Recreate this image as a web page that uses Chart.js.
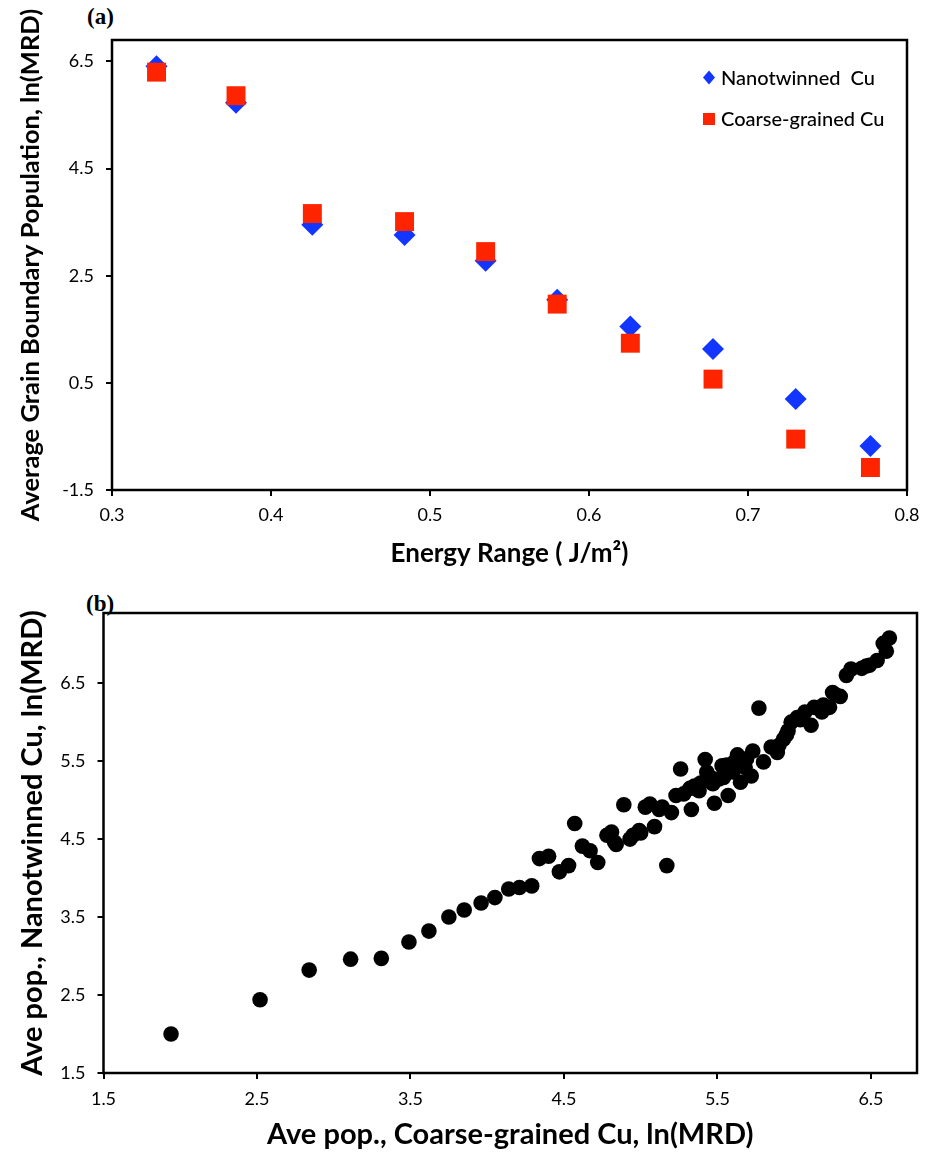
<!DOCTYPE html>
<html>
<head>
<meta charset="utf-8">
<script src="https://cdn.jsdelivr.net/npm/chart.js@4.4.1/dist/chart.umd.min.js"></script>
<style>
  body { margin: 0; background: #fff; }
  .panel { position: absolute; left: 0; }
  .tag { position: absolute; font: bold 23px "Liberation Serif", serif; color: #000; }
</style>
</head>
<body>
<div class="tag" style="left:87px;top:4px">(a)</div>
<div class="tag" style="left:86px;top:591px">(b)</div>
<canvas id="chartA" class="panel" style="top:0" width="933" height="580"></canvas>
<canvas id="chartB" class="panel" style="top:580px" width="933" height="575"></canvas>
<script>
// panel (a): energy ranges and average populations
const energyRange = [0.328, 0.378, 0.426, 0.484, 0.535, 0.580, 0.626, 0.678, 0.730, 0.777];
const nanotwinned = [6.41, 5.73, 3.45, 3.26, 2.78, 2.05, 1.55, 1.13, 0.20, -0.68];
const coarseGrained = [6.30, 5.86, 3.66, 3.51, 2.95, 1.97, 1.24, 0.57, -0.55, -1.08];
const xTicksA = [0.3, 0.4, 0.5, 0.6, 0.7, 0.8];
const yTicksA = [-1.5, 0.5, 2.5, 4.5, 6.5];

// panel (b): coarse-grained (x) vs nanotwinned (y)
const coarsePop = [1.94, 2.52, 2.84, 3.11, 3.31, 3.49, 3.62, 3.75, 3.85, 3.96, 4.05, 4.14, 4.21, 4.29,
  4.34, 4.40, 4.47, 4.53, 4.57, 4.62, 4.67, 4.72, 4.78, 4.81, 4.84, 4.89, 4.93, 4.99, 5.03, 5.06,
  5.09, 5.14, 5.17, 5.20, 5.23, 5.26, 5.28, 5.33, 5.35, 5.38, 5.42, 5.43, 5.47, 5.48, 5.53, 5.54,
  5.57, 5.60, 5.63, 5.65, 5.68, 5.72, 5.73, 5.77, 5.80, 5.85, 5.89, 5.93, 5.96, 5.98, 6.02, 6.07,
  6.11, 6.13, 6.18, 6.23, 6.25, 6.30, 6.34, 6.37, 6.44, 6.49, 6.54, 6.60, 6.58, 6.62,
  5.61, 5.51, 5.69, 5.45, 5.56, 5.90, 5.95, 6.04, 6.19, 6.27, 6.47, 4.95, 5.00, 5.12, 4.83, 5.32, 5.39];
const nanoPop = [2.00, 2.44, 2.82, 2.96, 2.97, 3.18, 3.32, 3.50, 3.59, 3.68, 3.75, 3.86, 3.88, 3.90,
  4.25, 4.28, 4.08, 4.16, 4.70, 4.41, 4.35, 4.20, 4.55, 4.59, 4.43, 4.94, 4.50, 4.61, 4.91, 4.95,
  4.66, 4.91, 4.16, 4.84, 5.06, 5.40, 5.08, 4.88, 5.18, 5.12, 5.52, 5.36, 5.21, 4.96, 5.44, 5.29,
  5.06, 5.36, 5.58, 5.23, 5.42, 5.31, 5.63, 6.18, 5.49, 5.68, 5.61, 5.78, 5.89, 6.00, 6.06, 6.13,
  5.96, 6.19, 6.13, 6.19, 6.38, 6.33, 6.60, 6.68, 6.69, 6.73, 6.79, 6.91, 7.01, 7.08,
  5.49, 5.27, 5.53, 5.30, 5.45, 5.70, 5.84, 6.03, 6.22, 6.35, 6.72, 4.55, 4.58, 4.88, 4.46, 5.15, 5.22];
const xTicksB = [1.5, 2.5, 3.5, 4.5, 5.5, 6.5];
const yTicksB = [1.5, 2.5, 3.5, 4.5, 5.5, 6.5];

const BLUE = '#1236ff';
const RED = '#ff2400';
const tickFont = { family: 'Lato', size: 18 };

const boxPlugin = {
  id: 'box',
  afterDraw(chart) {
    const { ctx, chartArea: a } = chart;
    ctx.save();
    ctx.strokeStyle = '#000';
    ctx.lineWidth = 2.5;
    ctx.strokeRect(a.left, a.top, a.right - a.left, a.bottom - a.top);
    ctx.restore();
  }
};

const legendPlugin = {
  id: 'insideLegend',
  afterDraw(chart) {
    const ctx = chart.ctx;
    ctx.save();
    ctx.textBaseline = 'middle';
    // diamond
    ctx.fillStyle = BLUE;
    ctx.beginPath();
    ctx.moveTo(709, 70.5); ctx.lineTo(715, 77.5); ctx.lineTo(709, 84.5); ctx.lineTo(703, 77.5);
    ctx.closePath(); ctx.fill();
    // square
    ctx.fillStyle = RED;
    ctx.fillRect(703, 113, 12, 12);
    ctx.fillStyle = '#000';
    ctx.font = '500 20px Lato';
    ctx.fillText('Nanotwinned  Cu', 721, 79);
    ctx.fillText('Coarse-grained Cu', 721, 120);
    ctx.restore();
  }
};

function axis(opts) {
  return {
    type: 'linear',
    min: opts.min,
    max: opts.max,
    afterBuildTicks: (s) => { s.ticks = opts.ticks.map((v) => ({ value: v })); },
    afterFit: (s) => {
      if (opts.width) s.width = opts.width;
      if (opts.height) s.height = opts.height;
    },
    ticks: {
      color: '#000',
      font: tickFont,
      padding: opts.pad,
      autoSkip: false,
      maxRotation: 0,
      callback: (v) => Number(v).toFixed(1)
    },
    grid: { drawOnChartArea: false, drawTicks: true, tickLength: 6, color: '#000', lineWidth: 2 },
    border: { display: false },
    title: {
      display: true,
      text: opts.title,
      color: '#000',
      font: { family: 'Lato', size: opts.titleSize, weight: 'bold' },
      padding: opts.titlePad
    }
  };
}

new Chart(document.getElementById('chartA'), {
  type: 'scatter',
  data: {
    datasets: [
      {
        label: 'Nanotwinned  Cu',
        data: energyRange.map((x, i) => ({ x: x, y: nanotwinned[i] })),
        pointStyle: 'rectRot',
        pointRadius: 11,
        backgroundColor: BLUE,
        borderWidth: 0,
        order: 1
      },
      {
        label: 'Coarse-grained Cu',
        data: energyRange.map((x, i) => ({ x: x, y: coarseGrained[i] })),
        pointStyle: 'rect',
        pointRadius: 13.4,
        backgroundColor: RED,
        borderWidth: 0,
        order: 0
      }
    ]
  },
  options: {
    responsive: false,
    animation: false,
    events: [],
    layout: { padding: { top: 40, right: 26, bottom: 0, left: 0 } },
    plugins: { legend: { display: false }, tooltip: { enabled: false } },
    scales: {
      x: axis({ min: 0.3, max: 0.8, ticks: xTicksA, height: 90, pad: 8,
        title: 'Energy Range ( J/m²)', titleSize: 26, titlePad: { top: 0, bottom: 11 } }),
      y: axis({ min: -1.5, max: 6.9, ticks: yTicksA, width: 112, pad: 12,
        title: 'Average Grain Boundary Population, ln(MRD)', titleSize: 25.5, titlePad: { top: 15, bottom: 0 } })
    }
  },
  plugins: [boxPlugin, legendPlugin]
});

new Chart(document.getElementById('chartB'), {
  type: 'scatter',
  data: {
    datasets: [
      {
        label: 'Ave pop.',
        data: coarsePop.map((x, i) => ({ x: x, y: nanoPop[i] })),
        pointStyle: 'circle',
        pointRadius: 7.8,
        backgroundColor: '#000',
        borderWidth: 0
      }
    ]
  },
  options: {
    responsive: false,
    animation: false,
    events: [],
    layout: { padding: { top: 33, right: 16, bottom: 0, left: 0 } },
    plugins: { legend: { display: false }, tooltip: { enabled: false } },
    scales: {
      x: axis({ min: 1.5, max: 6.8, ticks: xTicksB, height: 82, pad: 9,
        title: 'Ave pop., Coarse-grained Cu, ln(MRD)', titleSize: 29, titlePad: { top: 0, bottom: 3 } }),
      y: axis({ min: 1.5, max: 7.4, ticks: yTicksB, width: 103.5, pad: 12,
        title: 'Ave pop., Nanotwinned Cu, ln(MRD)', titleSize: 29, titlePad: { top: 15, bottom: 0 } })
    }
  },
  plugins: [boxPlugin]
});
</script>
</body>
</html>
